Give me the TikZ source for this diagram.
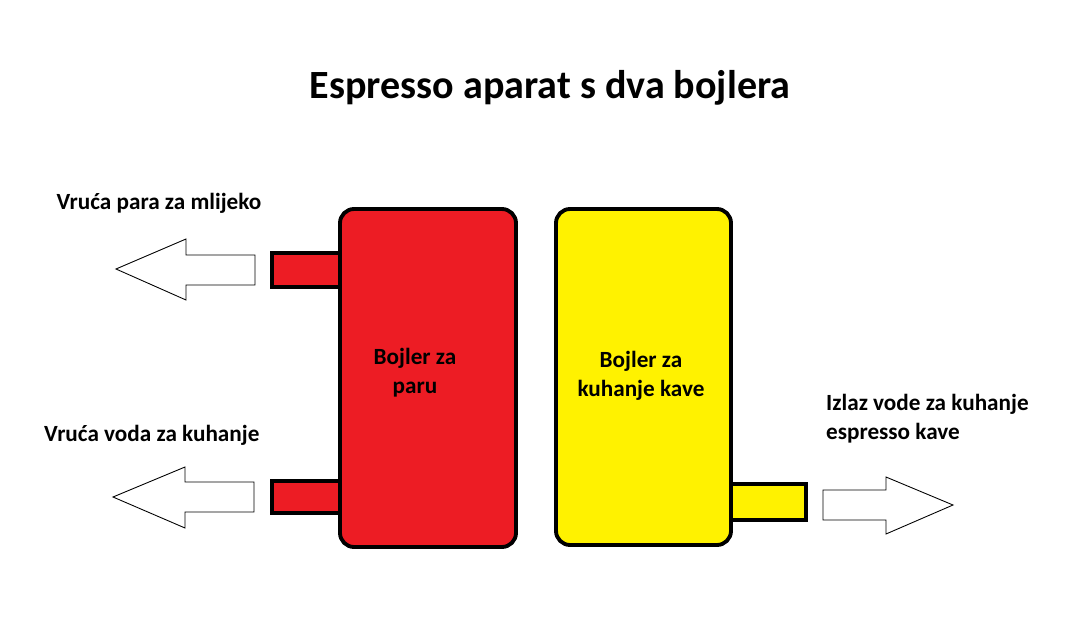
\documentclass[tikz,border=0pt]{standalone}
\usepackage{fontspec}
\setmainfont{Carlito}
\definecolor{boilred}{RGB}{237,28,36}
\definecolor{boilyellow}{RGB}{255,242,0}
\tikzset{
  boiler/.style={draw=black,line width=2.2pt,rounded corners=8pt},
  pipe/.style={draw=black,line width=1.8pt},
  flow/.style={draw=black,line width=0.5pt,fill=white},
  lbl/.style={font=\bfseries\fontsize{13.2}{16.5}\selectfont,align=center}
}
\begin{document}
\begin{tikzpicture}[x=0.02cm,y=-0.02cm]
            \useasboundingbox (0,0) rectangle (1090,643);
            \node[font=\bfseries\fontsize{22.8}{26}\selectfont] (title) at (550,88) {Espresso aparat s dva bojlera};

            %pipes
            \filldraw[pipe,fill=boilred] (272,253) rectangle (342,287);
            \filldraw[pipe,fill=boilred] (272,481) rectangle (342,513);
            \filldraw[pipe,fill=boilyellow] (729,484) rectangle (806,520);

            %boilers
            \filldraw[boiler,fill=boilred] (340,209) rectangle (516,547);
            \filldraw[boiler,fill=boilyellow] (556,209) rectangle (731,545);

            %arrows
            \filldraw[flow] (255,255) -- (186,255) -- (186,239) -- (116,269) -- (186,300) -- (186,285) -- (255,285) -- cycle;
            \filldraw[flow] (254,482) -- (185,482) -- (185,467) -- (113,497) -- (185,528) -- (185,512) -- (254,512) -- cycle;
            \filldraw[flow] (823,490) -- (886,490) -- (886,477) -- (953,505) -- (886,534) -- (886,520) -- (823,520) -- cycle;

            \node[lbl] (steam) at (159,203) {Vruća para za mlijeko};
            \node[lbl,anchor=west] (water) at (38,435) {Vruća voda za kuhanje};
            \node[lbl] (redtxt) at (415,373) {Bojler za\\paru};
            \node[lbl] (yeltxt) at (641,376) {Bojler za\\kuhanje kave};
            \node[lbl,align=left,anchor=west] (out) at (820,419) {Izlaz vode za kuhanje\\espresso kave};
        \end{tikzpicture}
\end{document}
